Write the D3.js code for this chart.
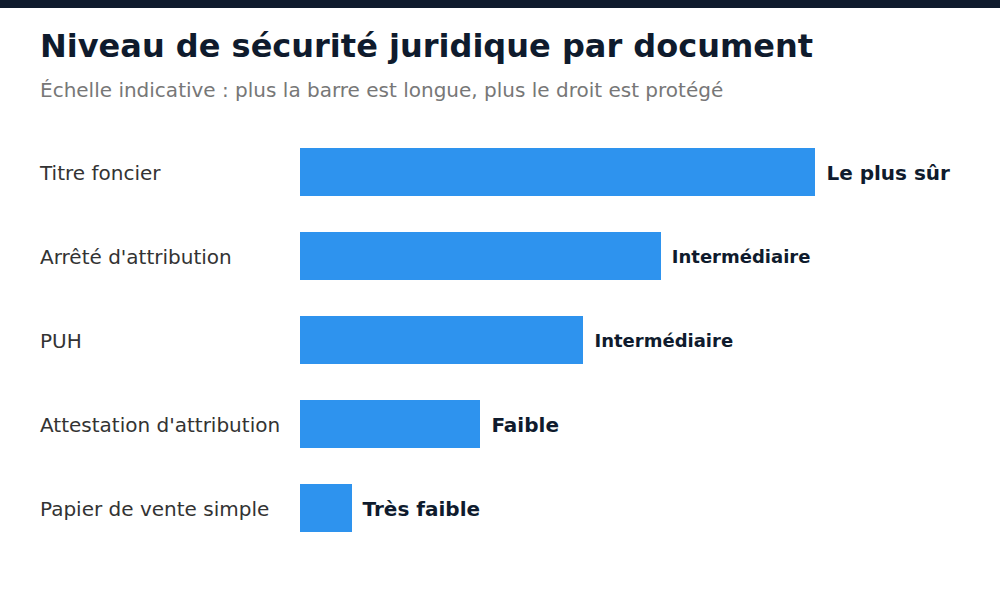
<!DOCTYPE html>
<html><head><meta charset="utf-8">
<script src="https://cdn.jsdelivr.net/npm/d3@7"></script>
<style>body{margin:0;background:#fff}svg{display:block}</style>
</head><body>
<svg id="c" width="1000" height="600"></svg>
<script>
const categories = ["Titre foncier","Arrêté d'attribution","PUH","Attestation d'attribution","Papier de vente simple"];
const values = [100, 70, 55, 35, 10];
const levelLabels = ["Le plus sûr","Intermédiaire","Intermédiaire","Faible","Très faible"];
const labelSizes = [20, 18, 18, 20, 20];

const svg = d3.select("#c");
const font = "'DejaVu Sans', sans-serif";
svg.append("rect").attr("x",0).attr("y",0).attr("width",1000).attr("height",8).attr("fill","#0f1b2d");
svg.append("text").attr("x",40).attr("y",57).attr("font-family",font).attr("font-weight","bold")
  .attr("font-size",32).attr("fill","#0f1b2d").text("Niveau de sécurité juridique par document");
svg.append("text").attr("x",40).attr("y",97).attr("font-family",font)
  .attr("font-size",20).attr("fill","#777").text("Échelle indicative : plus la barre est longue, plus le droit est protégé");

const x = d3.scaleLinear().domain([0,100]).range([300,815.4]);
const y = d3.scaleBand().domain(categories).range([130,550]).paddingInner(0.4286).paddingOuter(0.2143);

const g = svg.append("g");
g.selectAll("rect.bar").data(categories).join("rect").attr("class","bar")
  .attr("shape-rendering","crispEdges")
  .attr("x",x(0)).attr("y",d=>y(d)).attr("height",y.bandwidth())
  .attr("width",(d,i)=>x(values[i])-x(0)).attr("fill","#2e93ee");
g.selectAll("text.cat").data(categories).join("text").attr("class","cat")
  .attr("x",40).attr("y",d=>y(d)+y.bandwidth()/2).attr("dy","0.38em")
  .attr("font-family",font).attr("font-size",20).attr("fill","#333").text(d=>d);
g.selectAll("text.lvl").data(categories).join("text").attr("class","lvl")
  .attr("x",(d,i)=>x(values[i])+11).attr("y",d=>y(d)+y.bandwidth()/2).attr("dy","0.38em")
  .attr("font-family",font).attr("font-weight","bold").attr("font-size",(d,i)=>labelSizes[i])
  .attr("fill","#0f1b2d").text((d,i)=>levelLabels[i]);
</script>
</body></html>
